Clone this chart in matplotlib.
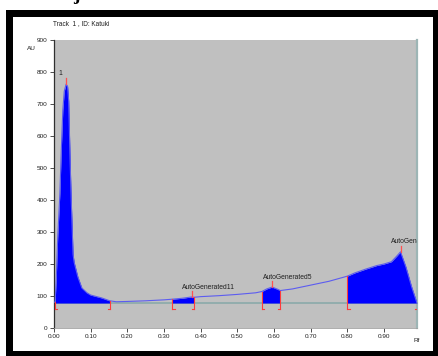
"""Densitometric track scan with integrated peak regions."""

import matplotlib.pyplot as plt
from matplotlib.patches import Rectangle

# scan profile (Rf vs detector response)
rf = [0.000, 0.003, 0.006, 0.010, 0.016, 0.020, 0.024, 0.028, 0.033, 0.037,
      0.040, 0.044, 0.047, 0.052, 0.055, 0.065, 0.076, 0.090, 0.100, 0.130,
      0.152, 0.170, 0.200, 0.250, 0.300, 0.323, 0.350, 0.375, 0.382, 0.400,
      0.450, 0.500, 0.550, 0.567, 0.580, 0.595, 0.610, 0.617, 0.650, 0.700,
      0.750, 0.800, 0.820, 0.850, 0.880, 0.900, 0.920, 0.935, 0.945, 0.960,
      0.975, 0.990]
au = [80, 82, 150, 280, 420, 560, 680, 740, 762, 755,
      710, 520, 400, 230, 205, 160, 125, 110, 103, 94,
      85, 82, 83, 85, 88, 90, 93, 97, 96, 98,
      101, 105, 110, 114, 122, 128, 121, 117, 122, 134,
      146, 162, 172, 184, 195, 200, 207, 225, 238, 190,
      130, 78]

baseline = 78

# integration windows, peak apex positions and labels
region_start = [0.003, 0.323, 0.567, 0.800]
region_end = [0.152, 0.382, 0.617, 0.990]
peak_rf = [0.033, 0.375, 0.595, 0.945]
peak_au = [762, 97, 128, 238]
peak_names = ["1", "AutoGenerated11", "AutoGenerated5", "AutoGenerated8"]
label_pos = [(0.011, 794), (0.350, 128), (0.570, 159), (0.918, 270)]

y_ticks = [0, 100, 200, 300, 400, 500, 600, 700, 800, 900]
x_ticks = [0.0, 0.1, 0.2, 0.3, 0.4, 0.5, 0.6, 0.7, 0.8, 0.9]

W, H = 438, 356
fig = plt.figure(figsize=(W / 100, H / 100), dpi=100)
fig.patch.set_facecolor("white")

# black picture frame
fig.patches.append(Rectangle((6 / W, 0), 1, (H - 10) / H, transform=fig.transFigure,
                             facecolor="black", edgecolor="none", zorder=-2))
fig.patches.append(Rectangle((13 / W, 5 / H), (433 - 13) / W, (339 - 5) / H,
                             transform=fig.transFigure, facecolor="white",
                             edgecolor="none", zorder=-1))

ax = fig.add_axes([54 / W, 28 / H, 363 / W, 288 / H])
ax.set_zorder(2)
ax.set_facecolor("#c0c0c0")
ax.set_xlim(0, 0.99)
ax.set_ylim(0, 900)

ax.axhline(baseline, color="#8fabab", lw=1.3, zorder=2)

for start, end in zip(region_start, region_end):
    xs = [x for x in rf if start <= x <= end]
    ys = [y for x, y in zip(rf, au) if start <= x <= end]
    ax.fill_between(xs, baseline, ys, color="#0000ff", lw=0, zorder=3)
    # edge markers
    for edge, foot in ((start, 0.006), (end, -0.006)):
        top = au[rf.index(edge)]
        ax.plot([edge, edge], [baseline - 20, top], color="#ff3b3b", lw=0.8, zorder=4)
        ax.plot([edge, edge + foot], [baseline - 20, baseline - 20],
                color="#ff3b3b", lw=0.8, zorder=4)

ax.plot(rf, au, color="#5c5cf0", lw=0.8, zorder=3)

for x, y in zip(peak_rf, peak_au):
    ax.plot([x, x], [y, y + 18], color="#ff5050", lw=0.9, zorder=4)

for name, (x, y) in zip(peak_names, label_pos):
    ax.text(x, y, name, fontsize=4.9, family="Liberation Sans", color="#202020",
            va="center", ha="left", clip_on=True, zorder=5)

ax.spines["top"].set_visible(False)
ax.spines["right"].set_color("#9db5b5")
ax.spines["right"].set_linewidth(1.6)
ax.spines["bottom"].set_color("#a0a0a0")
ax.spines["bottom"].set_linewidth(0.6)
ax.spines["left"].set_color("#303030")
ax.spines["left"].set_linewidth(0.9)

ax.set_yticks(y_ticks)
ax.set_yticklabels([str(v) for v in y_ticks])
ax.set_xticks(x_ticks)
ax.set_xticklabels([f"{v:.2f}" for v in x_ticks])
ax.tick_params(axis="both", labelsize=4.6, length=3, width=0.6, color="#303030",
               labelcolor="#202020", pad=1.5)
for lab in ax.get_xticklabels() + ax.get_yticklabels():
    lab.set_family("Liberation Sans")

fig.text(53 / W, 1 - 24 / H, "Track  1 , ID: Katuki", fontsize=4.7,
         family="Liberation Sans", color="#202020", va="center")
fig.text(27 / W, 1 - 48 / H, "AU", fontsize=4.6, family="Liberation Sans",
         color="#202020", va="center")
fig.text(414 / W, 1 - 340 / H, "Rf", fontsize=4.6, family="Liberation Sans",
         color="#202020", va="center")
fig.text(76 / W, 1.0, "j", fontsize=14, family="Liberation Serif",
         weight="bold", va="baseline", ha="center")

fig.savefig("out.png", dpi=100)
